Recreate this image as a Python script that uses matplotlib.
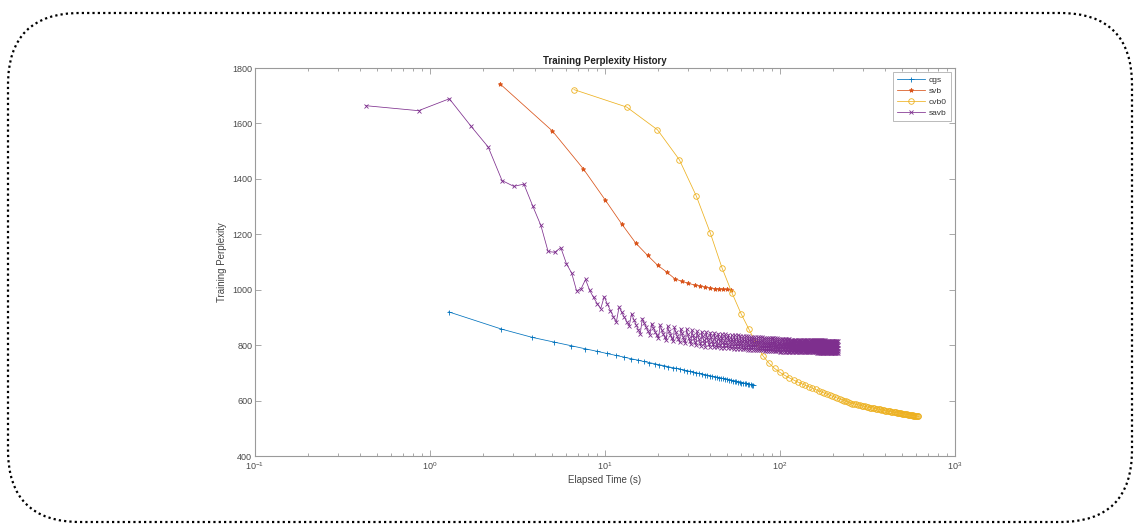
import matplotlib
matplotlib.use("Agg")
import matplotlib.pyplot as plt
from matplotlib.patches import FancyBboxPatch
from matplotlib.ticker import LogLocator, FixedLocator

plt.rcParams['font.family'] = ['Liberation Sans', 'DejaVu Sans']
plt.rcParams['mathtext.default'] = 'regular'

# ---------------- data ----------------
series_names = ['cgs', 'svb', 'cvb0', 'savb']
series_colors = ['#0072BD', '#D95319', '#EDB120', '#7E2F8E']
series_markers = ['+', '*', 'o', 'x']

cgs_time = [1.28, 2.56, 3.84, 5.12, 6.40, 7.68, 8.96, 10.24, 11.52, 12.80,
            14.08, 15.36, 16.64, 17.92, 19.20, 20.48, 21.76, 23.04, 24.32, 25.60,
            26.88, 28.16, 29.44, 30.72, 32.00, 33.28, 34.56, 35.84, 37.12, 38.40,
            39.68, 40.96, 42.24, 43.52, 44.80, 46.08, 47.36, 48.64, 49.92, 51.20,
            52.48, 53.76, 55.04, 56.32, 57.60, 58.88, 60.16, 61.44, 62.72, 64.00,
            65.28, 66.56, 67.84, 69.12, 70.40]
cgs_perplexity = [920, 858, 828, 811, 798, 787, 778, 770, 763, 757,
                  751, 746, 741, 737, 733, 729, 726, 722, 719, 716,
                  713, 710, 708, 705, 703, 700, 698, 696, 694, 692,
                  690, 688, 686, 685, 683, 681, 680, 678, 677, 675,
                  674, 672, 671, 669, 668, 667, 665, 664, 663, 662,
                  661, 659, 658, 657, 656]

svb_time = [2.5, 5.0, 7.5, 10.0, 12.5, 15.0, 17.5, 20.0, 22.5, 25.0,
            27.5, 30.0, 32.5, 35.0, 37.5, 40.0, 42.5, 45.0, 47.5, 50.0, 52.5]
svb_perplexity = [1744, 1573, 1437, 1325, 1236, 1168, 1124, 1088, 1064, 1040,
                  1030, 1023, 1017, 1013, 1009, 1006, 1004, 1003, 1002, 1001, 1000]

cvb0_time = [6.65, 13.3, 19.95, 26.6, 33.25, 39.9, 46.55, 53.2, 59.85, 66.5,
             73.15, 79.8, 86.45, 93.1, 99.75, 106.4, 113.05, 119.7, 126.35, 133.0,
             139.65, 146.3, 152.95, 159.6, 166.25, 172.9, 179.55, 186.2, 192.85, 199.5,
             206.15, 212.8, 219.45, 226.1, 232.75, 239.4, 246.05, 252.7, 259.35, 266.0,
             272.65, 279.3, 285.95, 292.6, 299.25, 305.9, 312.55, 319.2, 325.85, 332.5,
             339.15, 345.8, 352.45, 359.1, 365.75, 372.4, 379.05, 385.7, 392.35, 399.0,
             405.65, 412.3, 418.95, 425.6, 432.25, 438.9, 445.55, 452.2, 458.85, 465.5,
             472.15, 478.8, 485.45, 492.1, 498.75, 505.4, 512.05, 518.7, 525.35, 532.0,
             538.65, 545.3, 551.95, 558.6, 565.25, 571.9, 578.55, 585.2, 591.85, 598.5,
             605.15, 611.8, 618.45]
cvb0_perplexity = [1722, 1659, 1577, 1469, 1338, 1206, 1080, 988, 914, 857,
                   806, 762, 735, 716, 702, 691, 682, 674, 667, 661,
                   655, 650, 645, 640, 635, 631, 627, 623, 619, 616,
                   612, 609, 606, 603, 600, 597, 594, 591, 589, 588,
                   586, 585, 583, 582, 580, 579, 578, 576, 575, 574,
                   573, 572, 571, 570, 569, 568, 567, 566, 565, 564,
                   563, 562, 561, 561, 560, 559, 558, 558, 557, 556,
                   556, 555, 554, 554, 553, 552, 552, 551, 551, 550,
                   549, 549, 548, 548, 547, 547, 546, 546, 545, 545,
                   544, 544, 543]

savb_time = [
    0.43, 0.86, 1.29, 1.72, 2.15, 2.58, 3.01, 3.44, 3.87, 4.30,
    4.73, 5.16, 5.59, 6.02, 6.45, 6.88, 7.31, 7.74, 8.17, 8.60,
    9.03, 9.46, 9.89, 10.32, 10.75, 11.18, 11.61, 12.04, 12.47, 12.90,
    13.33, 13.76, 14.19, 14.62, 15.05, 15.48, 15.91, 16.34, 16.77, 17.20,
    17.63, 18.06, 18.49, 18.92, 19.35, 19.78, 20.21, 20.64, 21.07, 21.50,
    21.93, 22.36, 22.79, 23.22, 23.65, 24.08, 24.51, 24.94, 25.37, 25.80,
    26.23, 26.66, 27.09, 27.52, 27.95, 28.38, 28.81, 29.24, 29.67, 30.10,
    30.53, 30.96, 31.39, 31.82, 32.25, 32.68, 33.11, 33.54, 33.97, 34.40,
    34.83, 35.26, 35.69, 36.12, 36.55, 36.98, 37.41, 37.84, 38.27, 38.70,
    39.13, 39.56, 39.99, 40.42, 40.85, 41.28, 41.71, 42.14, 42.57, 43.00,
    43.43, 43.86, 44.29, 44.72, 45.15, 45.58, 46.01, 46.44, 46.87, 47.30,
    47.73, 48.16, 48.59, 49.02, 49.45, 49.88, 50.31, 50.74, 51.17, 51.60,
    52.03, 52.46, 52.89, 53.32, 53.75, 54.18, 54.61, 55.04, 55.47, 55.90,
    56.33, 56.76, 57.19, 57.62, 58.05, 58.48, 58.91, 59.34, 59.77, 60.20,
    60.63, 61.06, 61.49, 61.92, 62.35, 62.78, 63.21, 63.64, 64.07, 64.50,
    64.93, 65.36, 65.79, 66.22, 66.65, 67.08, 67.51, 67.94, 68.37, 68.80,
    69.23, 69.66, 70.09, 70.52, 70.95, 71.38, 71.81, 72.24, 72.67, 73.10,
    73.53, 73.96, 74.39, 74.82, 75.25, 75.68, 76.11, 76.54, 76.97, 77.40,
    77.83, 78.26, 78.69, 79.12, 79.55, 79.98, 80.41, 80.84, 81.27, 81.70,
    82.13, 82.56, 82.99, 83.42, 83.85, 84.28, 84.71, 85.14, 85.57, 86.00,
    86.43, 86.86, 87.29, 87.72, 88.15, 88.58, 89.01, 89.44, 89.87, 90.30,
    90.73, 91.16, 91.59, 92.02, 92.45, 92.88, 93.31, 93.74, 94.17, 94.60,
    95.03, 95.46, 95.89, 96.32, 96.75, 97.18, 97.61, 98.04, 98.47, 98.90,
    99.33, 99.76, 100.19, 100.62, 101.05, 101.48, 101.91, 102.34, 102.77, 103.20,
    103.63, 104.06, 104.49, 104.92, 105.35, 105.78, 106.21, 106.64, 107.07, 107.50,
    107.93, 108.36, 108.79, 109.22, 109.65, 110.08, 110.51, 110.94, 111.37, 111.80,
    112.23, 112.66, 113.09, 113.52, 113.95, 114.38, 114.81, 115.24, 115.67, 116.10,
    116.53, 116.96, 117.39, 117.82, 118.25, 118.68, 119.11, 119.54, 119.97, 120.40,
    120.83, 121.26, 121.69, 122.12, 122.55, 122.98, 123.41, 123.84, 124.27, 124.70,
    125.13, 125.56, 125.99, 126.42, 126.85, 127.28, 127.71, 128.14, 128.57, 129.00,
    129.43, 129.86, 130.29, 130.72, 131.15, 131.58, 132.01, 132.44, 132.87, 133.30,
    133.73, 134.16, 134.59, 135.02, 135.45, 135.88, 136.31, 136.74, 137.17, 137.60,
    138.03, 138.46, 138.89, 139.32, 139.75, 140.18, 140.61, 141.04, 141.47, 141.90,
    142.33, 142.76, 143.19, 143.62, 144.05, 144.48, 144.91, 145.34, 145.77, 146.20,
    146.63, 147.06, 147.49, 147.92, 148.35, 148.78, 149.21, 149.64, 150.07, 150.50,
    150.93, 151.36, 151.79, 152.22, 152.65, 153.08, 153.51, 153.94, 154.37, 154.80,
    155.23, 155.66, 156.09, 156.52, 156.95, 157.38, 157.81, 158.24, 158.67, 159.10,
    159.53, 159.96, 160.39, 160.82, 161.25, 161.68, 162.11, 162.54, 162.97, 163.40,
    163.83, 164.26, 164.69, 165.12, 165.55, 165.98, 166.41, 166.84, 167.27, 167.70,
    168.13, 168.56, 168.99, 169.42, 169.85, 170.28, 170.71, 171.14, 171.57, 172.00,
    172.43, 172.86, 173.29, 173.72, 174.15, 174.58, 175.01, 175.44, 175.87, 176.30,
    176.73, 177.16, 177.59, 178.02, 178.45, 178.88, 179.31, 179.74, 180.17, 180.60,
    181.03, 181.46, 181.89, 182.32, 182.75, 183.18, 183.61, 184.04, 184.47, 184.90,
    185.33, 185.76, 186.19, 186.62, 187.05, 187.48, 187.91, 188.34, 188.77, 189.20,
    189.63, 190.06, 190.49, 190.92, 191.35, 191.78, 192.21, 192.64, 193.07, 193.50,
    193.93, 194.36, 194.79, 195.22, 195.65, 196.08, 196.51, 196.94, 197.37, 197.80,
    198.23, 198.66, 199.09, 199.52, 199.95, 200.38, 200.81, 201.24, 201.67, 202.10,
    202.53, 202.96, 203.39, 203.82, 204.25, 204.68, 205.11, 205.54, 205.97, 206.40,
    206.83, 207.26, 207.69, 208.12, 208.55, 208.98, 209.41, 209.84, 210.27, 210.70,
    211.13, 211.56, 211.99, 212.42, 212.85, 213.28, 213.71, 214.14, 214.57, 215.00,
]
savb_perplexity = [
    1664, 1646, 1689, 1589, 1515, 1394, 1373, 1381, 1301, 1232,
    1138, 1135, 1152, 1094, 1060, 996, 1004,
    1037, 998, 972, 950, 932,
    975, 948, 925, 902, 884,
    938, 918, 901, 884, 870,
    913, 892, 874, 856, 842,
    896, 879, 864, 850, 838,
    878, 862, 848, 835, 824,
    872, 856, 842, 829, 818,
    868, 852, 838, 825, 814,
    864, 848, 834, 821, 810,
    860, 844, 830, 817, 806,
    857, 841, 827, 814, 803,
    854, 838, 824, 811, 800,
    851, 835, 822, 809, 798,
    849, 833, 820, 806, 795,
    847, 831, 818, 805, 794,
    845, 829, 816, 803, 793,
    844, 828, 815, 802, 792,
    842, 827, 814, 801, 791,
    841, 826, 813, 800, 790,
    839, 824, 812, 799, 789,
    838, 823, 811, 798, 788,
    837, 822, 810, 797, 787,
    836, 821, 809, 796, 787,
    835, 820, 808, 796, 786,
    834, 819, 807, 795, 785,
    833, 818, 806, 794, 785,
    832, 818, 806, 794, 784,
    832, 817, 805, 793, 784,
    831, 817, 805, 793, 783,
    830, 816, 804, 792, 783,
    829, 815, 803, 791, 782,
    829, 815, 803, 791, 782,
    828, 814, 802, 790, 781,
    828, 814, 802, 790, 781,
    827, 813, 801, 789, 780,
    827, 813, 801, 789, 780,
    826, 812, 800, 788, 779,
    826, 812, 800, 788, 779,
    825, 811, 799, 788, 779,
    825, 811, 799, 787, 778,
    824, 810, 798, 787, 778,
    824, 810, 798, 787, 778,
    823, 809, 797, 786, 777,
    823, 809, 797, 786, 777,
    822, 808, 797, 786, 777,
    822, 808, 797, 786, 777,
    822, 808, 796, 785, 776,
    822, 808, 796, 785, 776,
    821, 807, 796, 785, 776,
    821, 807, 796, 785, 776,
    820, 807, 795, 785, 776,
    820, 806, 795, 784, 775,
    820, 806, 795, 784, 775,
    820, 806, 795, 784, 775,
    820, 806, 795, 784, 775,
    820, 806, 795, 784, 775,
    819, 806, 794, 784, 775,
    819, 806, 794, 784, 775,
    819, 806, 794, 784, 775,
    819, 806, 794, 784, 775,
    819, 806, 794, 784, 775,
    819, 806, 794, 784, 775,
    819, 806, 794, 784, 775,
    818, 805, 794, 783, 774,
    818, 805, 794, 783, 774,
    818, 805, 794, 783, 774,
    818, 805, 794, 783, 774,
    818, 805, 794, 783, 774,
    818, 805, 794, 783, 774,
    818, 805, 794, 783, 774,
    818, 805, 794, 783, 774,
    817, 804, 793, 782, 773,
    817, 804, 793, 782, 773,
    817, 804, 793, 782, 773,
    817, 804, 793, 782, 773,
    817, 804, 793, 782, 773,
    817, 804, 793, 782, 773,
    817, 804, 793, 782, 773,
    817, 804, 793, 782, 773,
    817, 804, 793, 782, 773,
    817, 804, 793, 782, 773,
    816, 803, 792, 781, 772,
    816, 803, 792, 781, 772,
    816, 803, 792, 781, 772,
    816, 803, 792, 781, 772,
    816, 803, 792, 781, 772,
    816, 803, 792, 781, 772,
    816, 803, 792, 781, 772,
    816, 803, 792, 781, 772,
    816, 803, 792, 781, 772,
    816, 803, 792, 781, 772,
    815, 802, 791, 780, 771,
    815, 802, 791, 780, 771,
    815, 802, 791, 780, 771,
    815, 802, 791, 780, 771,
    815, 802, 791, 780, 771,
    815, 802, 791,
]

x_limits = [0.1, 1000]
y_limits = [400, 1800]
y_ticks = [400, 600, 800, 1000, 1200, 1400, 1600, 1800]
title_text = 'Training Perplexity History'
x_label = 'Elapsed Time (s)'
y_label = 'Training Perplexity'

# ---------------- figure ----------------
W, H = 1136, 524
fig = plt.figure(figsize=(W / 100, H / 100), dpi=100)
fig.patch.set_facecolor('white')

# dotted rounded frame (in inches)
frame = FancyBboxPatch((0.08 + 0.72, 0.02 + 0.72), (1132 - 8) / 100 - 1.44, 5.11 - 0.02 - 1.44,
                       boxstyle='round,pad=0.72', transform=fig.dpi_scale_trans,
                       facecolor='none', edgecolor='black', linewidth=1.6,
                       linestyle=(0, (1, 1.4)), capstyle='butt')
fig.patches.append(frame)

ax = fig.add_axes([255 / W, (H - 456) / H, (955 - 255) / W, (456 - 68) / H])

all_time = [cgs_time, svb_time, cvb0_time, savb_time]
all_perp = [cgs_perplexity, svb_perplexity, cvb0_perplexity, savb_perplexity]
msizes = [3.6, 3.2, 4.0, 3.0]
for name, color, mk, t, p, ms in zip(series_names, series_colors, series_markers,
                                     all_time, all_perp, msizes):
    ax.plot(t, p, color=color, marker=mk, markersize=ms, linewidth=0.55,
            markeredgewidth=0.6, markerfacecolor='none' if mk == 'o' else color,
            label=name)

ax.set_xscale('log')
ax.set_xlim(x_limits)
ax.set_ylim(y_limits)
ax.yaxis.set_major_locator(FixedLocator(y_ticks))
ax.xaxis.set_major_locator(LogLocator(base=10, numticks=10))
ax.xaxis.set_minor_locator(LogLocator(base=10, subs=range(2, 10), numticks=50))

spine_color = '#9a9a9a'
for s in ax.spines.values():
    s.set_color(spine_color)
    s.set_linewidth(0.8)
ax.tick_params(which='both', direction='in', top=True, right=True,
               colors=spine_color, labelcolor='#4a4a4a', labelsize=6.5, width=0.6)
ax.tick_params(which='major', length=4)
ax.tick_params(which='minor', length=2)
ax.tick_params(axis='x', pad=3)
ax.tick_params(axis='y', pad=2)

ax.set_title(title_text, fontsize=7, fontweight='bold', color='#222222', pad=3)
ax.set_xlabel(x_label, fontsize=7, color='#444444', labelpad=2)
ax.set_ylabel(y_label, fontsize=7, color='#444444', labelpad=4)

leg = ax.legend(loc='upper right', fontsize=6, handlelength=3.4, handletextpad=0.5,
                borderpad=0.45, labelspacing=0.38, borderaxespad=0.5, fancybox=False,
                framealpha=1)
leg.get_frame().set_edgecolor('#b0b0b0')
leg.get_frame().set_linewidth(0.6)
for txt in leg.get_texts():
    txt.set_color('#333333')

fig.savefig('out.png', dpi=100)
